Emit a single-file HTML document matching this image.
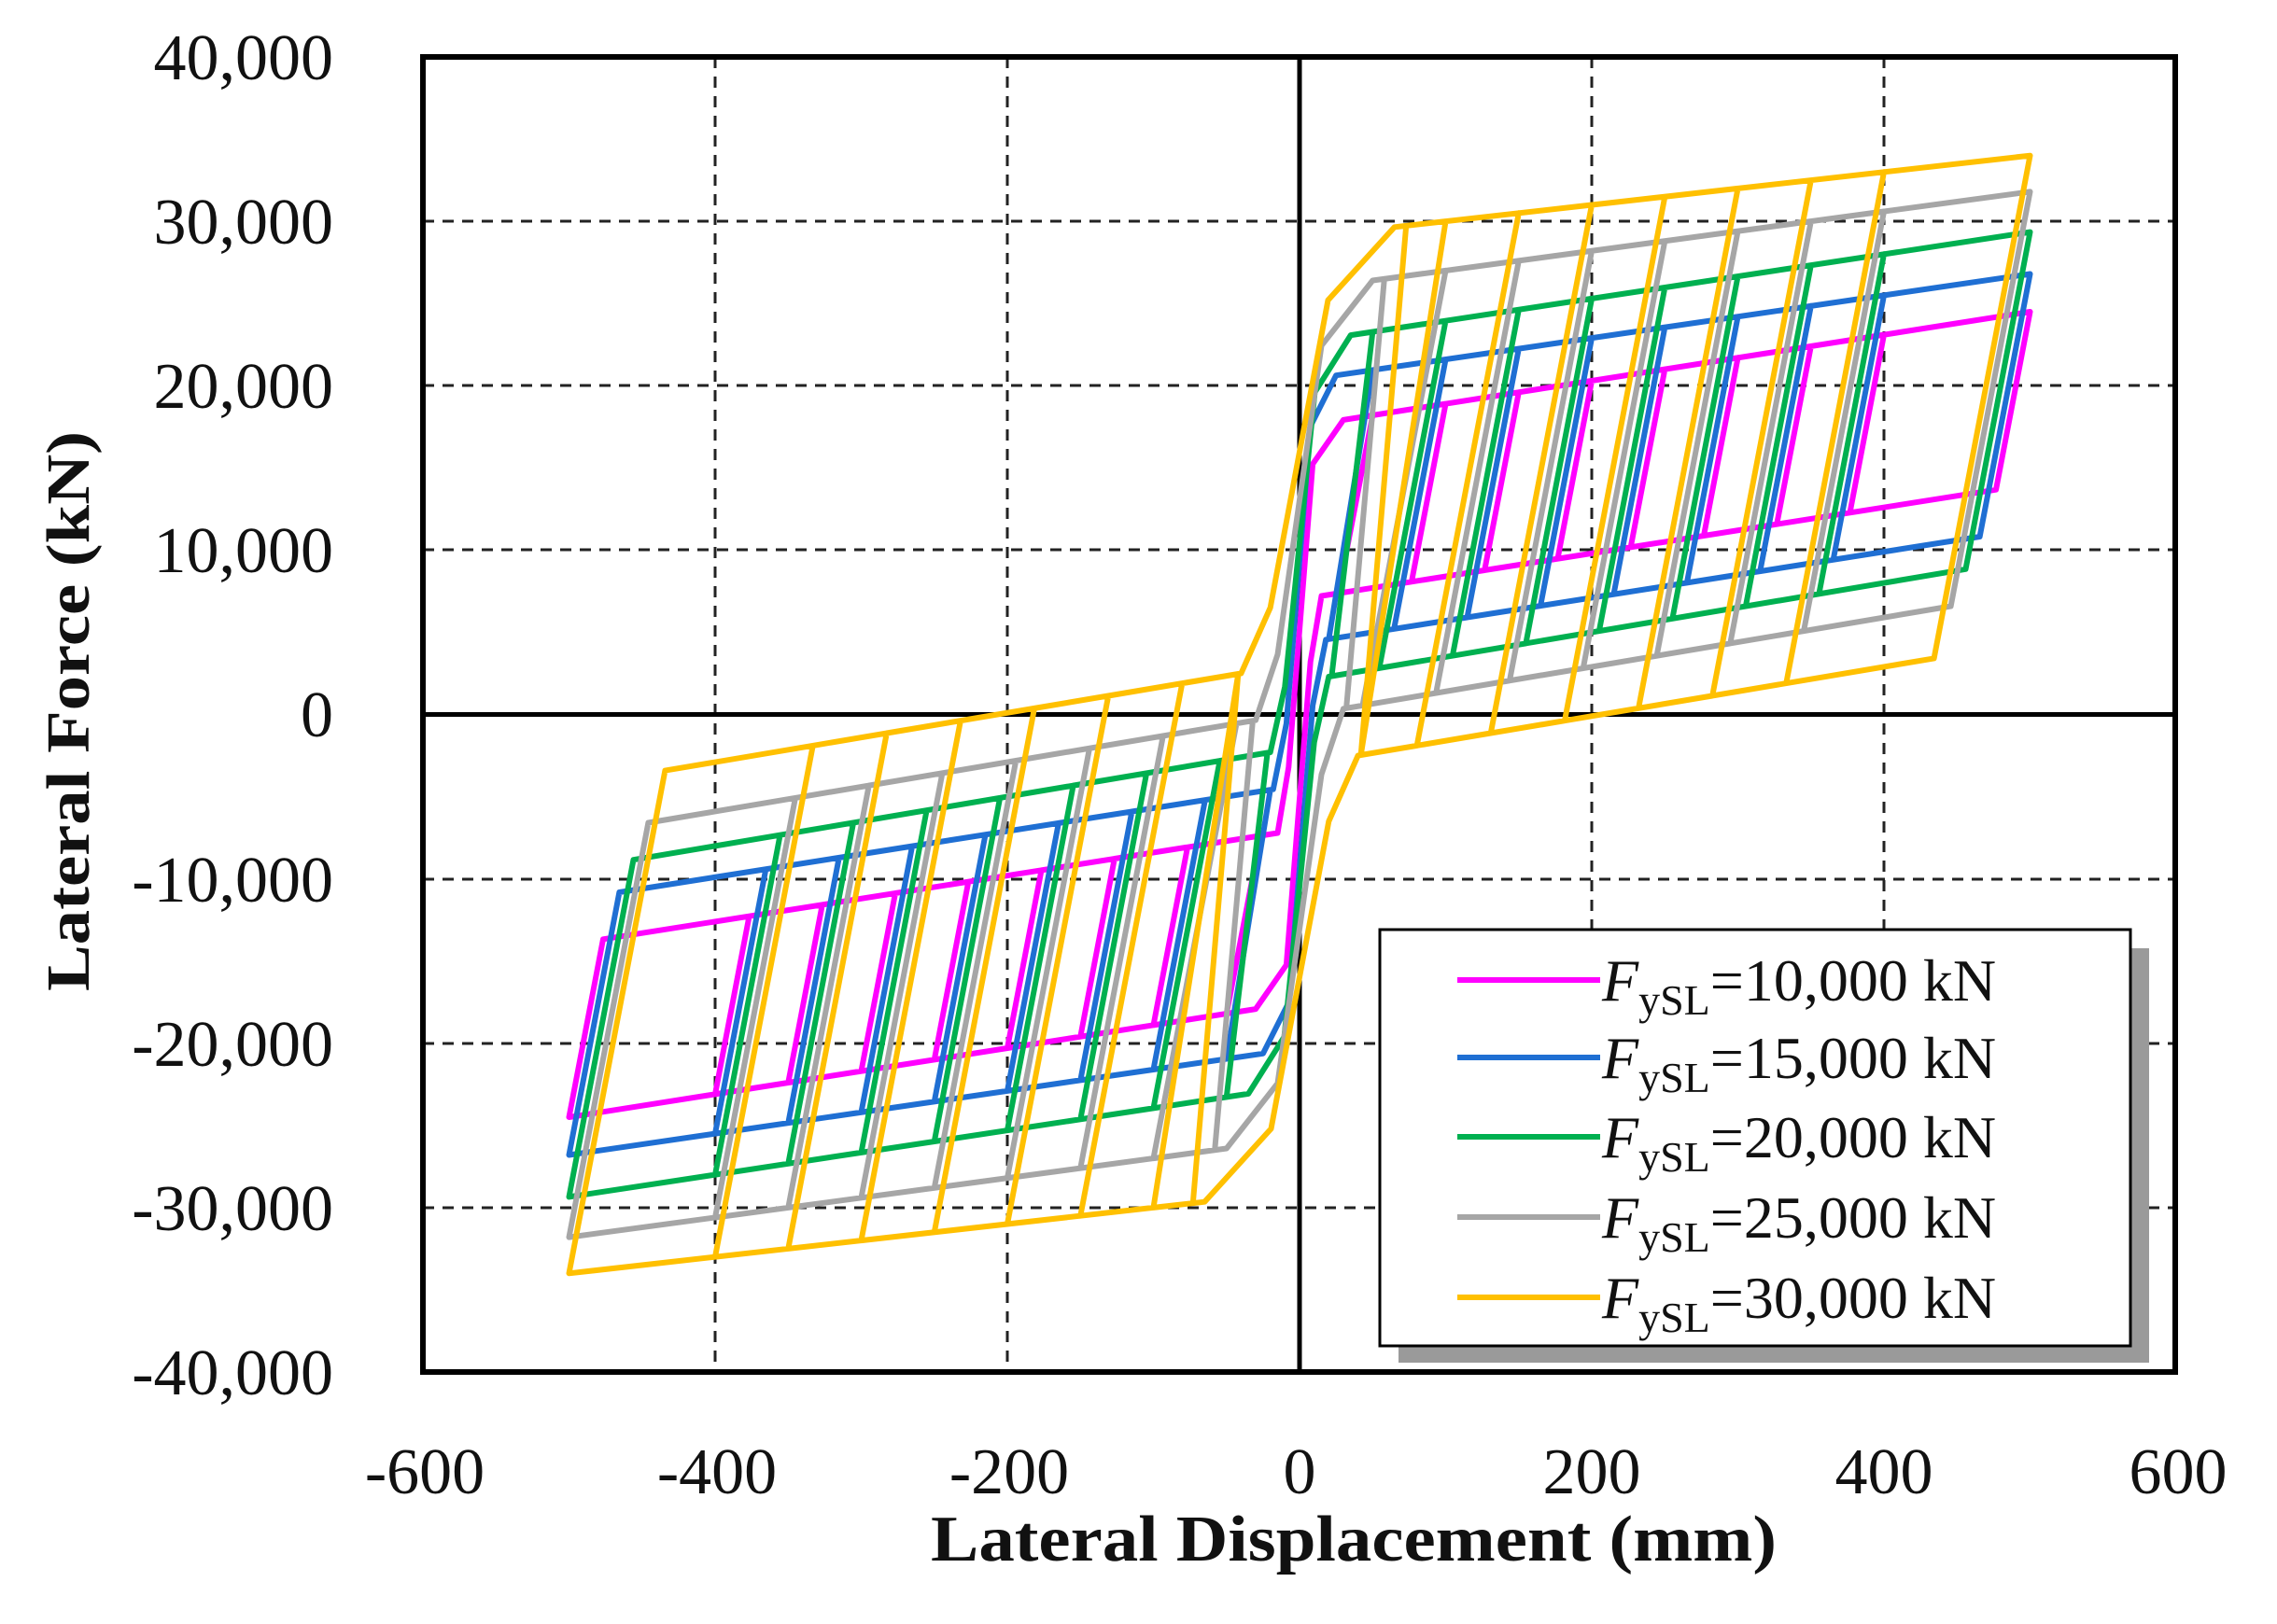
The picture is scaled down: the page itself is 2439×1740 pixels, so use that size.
<!DOCTYPE html>
<html><head><meta charset="utf-8"><style>
html,body{margin:0;padding:0;background:#fff;}
svg{display:block;}
text{font-family:"Liberation Serif",serif;fill:#111;}
</style></head><body>
<svg id="s" width="2439" height="1740" viewBox="0 0 2439 1740" xmlns="http://www.w3.org/2000/svg">
<rect width="2439" height="1740" fill="#fff"/>
<g stroke="#222" stroke-width="3" stroke-dasharray="12 9" fill="none">
<line x1="766" y1="61" x2="766" y2="1470"/>
<line x1="1079" y1="61" x2="1079" y2="1470"/>
<line x1="1705" y1="61" x2="1705" y2="1470"/>
<line x1="2018" y1="61" x2="2018" y2="1470"/>
<line x1="453" y1="237" x2="2330" y2="237"/>
<line x1="453" y1="413" x2="2330" y2="413"/>
<line x1="453" y1="589" x2="2330" y2="589"/>
<line x1="453" y1="942" x2="2330" y2="942"/>
<line x1="453" y1="1118" x2="2330" y2="1118"/>
<line x1="453" y1="1294" x2="2330" y2="1294"/>
</g>
<line x1="1392" y1="61" x2="1392" y2="1470" stroke="#000" stroke-width="5"/>
<line x1="453" y1="765.5" x2="2330" y2="765.5" stroke="#000" stroke-width="5"/>
<g id="curves" fill="none" stroke-width="6" stroke-linejoin="round" stroke-linecap="round"></g>
<rect x="453" y="61" width="1877" height="1409" fill="none" stroke="#000" stroke-width="6"/>
<rect x="1498" y="1016" width="804" height="444" fill="#9a9a9a"/>
<rect x="1478" y="996" width="804" height="446" fill="#fff" stroke="#000" stroke-width="3"/>
<g stroke-width="6">
<line x1="1561" y1="1050" x2="1714" y2="1050" stroke="#FF00FF"/>
<line x1="1561" y1="1133" x2="1714" y2="1133" stroke="#1F6FD3"/>
<line x1="1561" y1="1218" x2="1714" y2="1218" stroke="#00B050"/>
<line x1="1561" y1="1304" x2="1714" y2="1304" stroke="#A6A6A6"/>
<line x1="1561" y1="1390" x2="1714" y2="1390" stroke="#FFC000"/>
</g>
<g font-size="64">
<text x="1716" y="1072"><tspan font-style="italic">F</tspan><tspan font-size="46" dy="15">ySL</tspan><tspan dy="-15">=10,000 kN</tspan></text>
<text x="1716" y="1155"><tspan font-style="italic">F</tspan><tspan font-size="46" dy="15">ySL</tspan><tspan dy="-15">=15,000 kN</tspan></text>
<text x="1716" y="1240"><tspan font-style="italic">F</tspan><tspan font-size="46" dy="15">ySL</tspan><tspan dy="-15">=20,000 kN</tspan></text>
<text x="1716" y="1326"><tspan font-style="italic">F</tspan><tspan font-size="46" dy="15">ySL</tspan><tspan dy="-15">=25,000 kN</tspan></text>
<text x="1716" y="1412"><tspan font-style="italic">F</tspan><tspan font-size="46" dy="15">ySL</tspan><tspan dy="-15">=30,000 kN</tspan></text>
</g>
<g font-size="70" text-anchor="end">
<text x="357" y="85">40,000</text>
<text x="357" y="261">30,000</text>
<text x="357" y="437">20,000</text>
<text x="357" y="613">10,000</text>
<text x="357" y="789">0</text>
<text x="357" y="966">-10,000</text>
<text x="357" y="1142">-20,000</text>
<text x="357" y="1318">-30,000</text>
<text x="357" y="1494">-40,000</text>
</g>
<g font-size="70" text-anchor="middle">
<text x="455" y="1600">-600</text>
<text x="768" y="1600">-400</text>
<text x="1081" y="1600">-200</text>
<text x="1392" y="1600">0</text>
<text x="1705" y="1600">200</text>
<text x="2018" y="1600">400</text>
<text x="2333" y="1600">600</text>
</g>
<text x="1450" y="1672" font-size="70" font-weight="bold" text-anchor="middle" textLength="906" lengthAdjust="spacingAndGlyphs">Lateral Displacement (mm)</text>
<text transform="translate(95,762) rotate(-90)" font-size="66" font-weight="bold" text-anchor="middle" textLength="600" lengthAdjust="spacingAndGlyphs">Lateral Force (kN)</text>
</svg>
<script>
(function(){
var X=function(x){return 1392+1.565*x;}, Y=function(f){return 765.5-0.017613*f;};
var S=[
{c:'#FF00FF',u0:17500,ku:14,l0:7000,kl:14,xs:15,xe:30},
{c:'#1F6FD3',u0:20300,ku:13,l0:4300,kl:14,xs:18,xe:25},
{c:'#00B050',u0:22600,ku:13.5,l0:2000,kl:15,xs:20,xe:35},
{c:'#A6A6A6',u0:25800,ku:12,l0:-100,kl:15,xs:30,xe:50},
{c:'#FFC000',u0:29000,ku:10,l0:-3100,kl:15,xs:40,xe:65}];
var amps=[50,100,150,200,250,300,350,400,500],K=450;
var g=document.getElementById('curves');
S.forEach(function(s){
 var U=function(x){return s.u0+s.ku*x;},L=function(x){return s.l0+s.kl*x;};
 var d='';
 amps.forEach(function(A0){
  var A=Math.max(A0,s.xe+8);
  var xd=A-(U(A)-L(A))/K; if(xd<s.xs+2)xd=s.xs+2;
  var pts=[[A,U(A)],[xd,L(xd)],[s.xs,L(s.xs)],[s.xs*0.5,L(s.xs)-4000],[-s.xe*0.3,-U(s.xe)*0.85],[-s.xe,-U(s.xe)],
   [-A,-U(A)],[-xd,-L(xd)],[-s.xs,-L(s.xs)],[-s.xs*0.5,-L(s.xs)+4000],[s.xe*0.3,U(s.xe)*0.85],[s.xe,U(s.xe)],[A,U(A)]];
  pts.forEach(function(p,i){d+=(i?'L':'M')+X(p[0]).toFixed(1)+' '+Y(p[1]).toFixed(1)+' ';});
 });
 var p=document.createElementNS('http://www.w3.org/2000/svg','path');
 p.setAttribute('d',d);p.setAttribute('stroke',s.c);g.appendChild(p);
});
})();
</script>
</body></html>
